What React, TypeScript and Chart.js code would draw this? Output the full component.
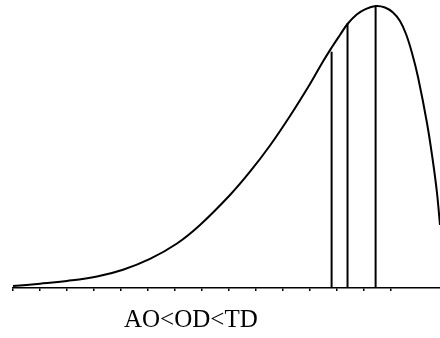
import React, { useEffect, useRef } from "react";
import { Chart, registerables } from "chart.js";

Chart.register(...registerables);

// Distribution curve (x in tick units, y relative with peak = 100)
const curveX = [0, 1, 2, 3.111, 4.074, 5.074, 6.074, 6.926, 8.037, 8.778, 9.519, 10.259, 11.0, 11.481, 11.804, 12.111, 12.389, 12.73, 13.037, 13.433, 13.778, 14.074, 14.333, 14.556, 14.778, 15.0, 15.333, 15.556, 15.704, 15.815];
const curveY = [0.71, 1.52, 2.48, 4.08, 6.49, 10.32, 15.78, 22.34, 32.98, 41.24, 50.53, 60.99, 72.34, 80.32, 85.28, 89.72, 93.62, 96.99, 98.83, 100, 99.47, 97.7, 94.68, 90.07, 83.33, 74.82, 58.51, 44.68, 33.69, 22.34];

// Vertical markers: AO, OD, TD
const markerNames = ["AO", "OD", "TD"];
const markerX = [11.8, 12.39, 13.43];
const markerTop = [83.8, 93.9, 100];

const caption = "AO<OD<TD";
const xMin = 0;
const xMax = 15.815;
const yMax = 102.13;

export default function App() {
  const ref = useRef<HTMLCanvasElement | null>(null);

  useEffect(() => {
    document.body.style.margin = "0";
    const canvas = ref.current;
    if (!canvas) return;
    const datasets: any[] = [
      {
        label: "curve",
        data: curveX.map((x, i) => ({ x, y: curveY[i] })),
        borderColor: "#000",
        borderWidth: 2,
        pointRadius: 0,
        fill: false,
        tension: 0.4,
        clip: false,
      },
      ...markerNames.map((name, i) => ({
        label: name,
        data: [
          { x: markerX[i], y: 0 },
          { x: markerX[i], y: markerTop[i] },
        ],
        borderColor: "#000",
        borderWidth: 2,
        pointRadius: 0,
        fill: false,
        tension: 0,
        clip: false,
      })),
    ];
    const chart = new Chart(canvas, {
      type: "line",
      data: { datasets },
      options: {
        animation: false,
        responsive: false,
        maintainAspectRatio: false,
        layout: { padding: { left: 13, right: 0, top: 0, bottom: 0 } },
        plugins: { legend: { display: false }, tooltip: { enabled: false }, title: { display: false } },
        scales: {
          x: {
            type: "linear",
            min: xMin,
            max: xMax,
            afterBuildTicks: (axis: any) => {
              axis.ticks = axis.ticks.filter((t: any) => Math.abs(t.value - Math.round(t.value)) < 1e-6);
            },
            afterFit: (axis: any) => {
              axis.height = 50;
            },
            ticks: { display: false, stepSize: 1 },
            grid: { drawOnChartArea: false, drawTicks: true, tickLength: 3, color: "#000", lineWidth: 1.5 },
            border: { display: true, color: "#000", width: 1.5 },
          },
          y: {
            display: false,
            min: 0,
            max: yMax,
          },
        },
      },
    });
    return () => chart.destroy();
  }, []);

  return (
    <div style={{ position: "relative", width: 440, height: 338, background: "#fff", overflow: "hidden" }}>
      <canvas ref={ref} width={440} height={338} style={{ display: "block" }} />
      <div
        style={{
          position: "absolute",
          left: 124,
          top: 306,
          fontFamily: "'Liberation Serif', 'Times New Roman', serif",
          fontSize: 25,
          lineHeight: "25px",
          color: "#000",
          whiteSpace: "nowrap",
        }}
      >
        {caption}
      </div>
    </div>
  );
}
